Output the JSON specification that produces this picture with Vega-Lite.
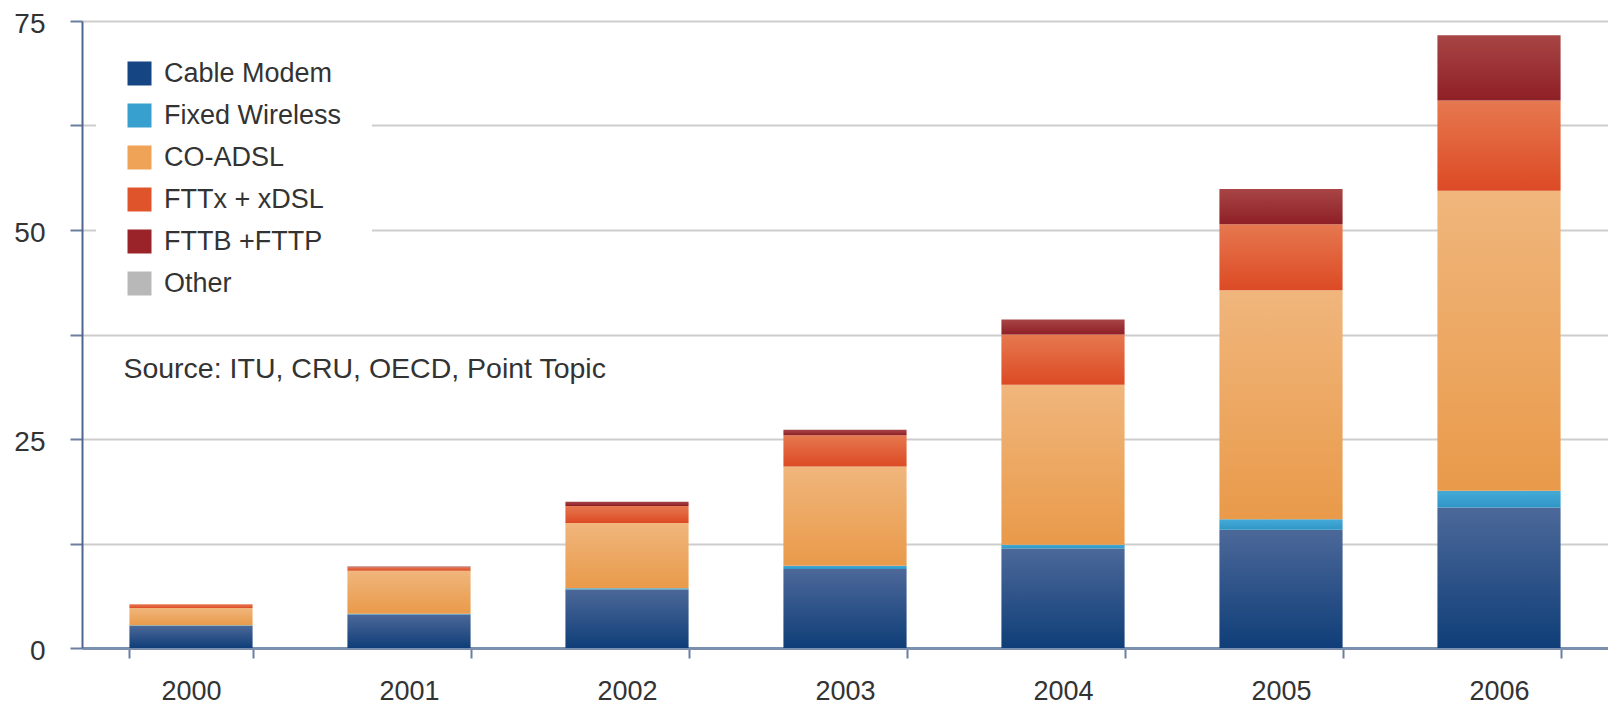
{
  "$schema": "https://vega.github.io/schema/vega-lite/v6.json",
  "width": 1526,
  "height": 627,
  "autosize": "none",
  "padding": {"left": 82, "top": 21, "right": 0, "bottom": 57},
  "background": "white",
  "config": {
    "view": {"stroke": null},
    "font": "Liberation Sans",
    "axisY": {
      "labelFontSize": 28,
      "labelFont": "Liberation Sans",
      "labelColor": "#333333",
      "labelPadding": 25,
      "labelOffset": 3,
      "tickSize": 12,
      "tickColor": "#6a7fa0",
      "tickWidth": 2,
      "domainColor": "#4f6690",
      "domainWidth": 2,
      "gridColor": "#cdcdcd",
      "gridWidth": 2,
      "title": null
    },
    "axisX": {
      "tickBand": "extent",
      "tickSize": 10,
      "tickColor": "#6a7fa0",
      "tickWidth": 2,
      "domainColor": "#7b8fae",
      "domainWidth": 3,
      "labelAngle": 0,
      "labelFontSize": 27,
      "labelFont": "Liberation Sans",
      "labelColor": "#333333",
      "labelPadding": 20,
      "grid": false,
      "title": null
    }
  },
  "data": {
    "values": [
      {"year": "2000", "series": "Cable Modem", "value": 2.67},
      {"year": "2000", "series": "Fixed Wireless", "value": 0.05},
      {"year": "2000", "series": "CO-ADSL", "value": 2.05},
      {"year": "2000", "series": "FTTx + xDSL", "value": 0.45},
      {"year": "2000", "series": "FTTB +FTTP", "value": 0.0},
      {"year": "2000", "series": "Other", "value": 0.0},
      {"year": "2001", "series": "Cable Modem", "value": 4.0},
      {"year": "2001", "series": "Fixed Wireless", "value": 0.1},
      {"year": "2001", "series": "CO-ADSL", "value": 5.15},
      {"year": "2001", "series": "FTTx + xDSL", "value": 0.4},
      {"year": "2001", "series": "FTTB +FTTP", "value": 0.1},
      {"year": "2001", "series": "Other", "value": 0.0},
      {"year": "2002", "series": "Cable Modem", "value": 7.0},
      {"year": "2002", "series": "Fixed Wireless", "value": 0.15},
      {"year": "2002", "series": "CO-ADSL", "value": 7.8},
      {"year": "2002", "series": "FTTx + xDSL", "value": 2.05},
      {"year": "2002", "series": "FTTB +FTTP", "value": 0.5},
      {"year": "2002", "series": "Other", "value": 0.0},
      {"year": "2003", "series": "Cable Modem", "value": 9.45},
      {"year": "2003", "series": "Fixed Wireless", "value": 0.4},
      {"year": "2003", "series": "CO-ADSL", "value": 11.85},
      {"year": "2003", "series": "FTTx + xDSL", "value": 3.75},
      {"year": "2003", "series": "FTTB +FTTP", "value": 0.65},
      {"year": "2003", "series": "Other", "value": 0.0},
      {"year": "2004", "series": "Cable Modem", "value": 11.9},
      {"year": "2004", "series": "Fixed Wireless", "value": 0.45},
      {"year": "2004", "series": "CO-ADSL", "value": 19.15},
      {"year": "2004", "series": "FTTx + xDSL", "value": 6.0},
      {"year": "2004", "series": "FTTB +FTTP", "value": 1.8},
      {"year": "2004", "series": "Other", "value": 0.0},
      {"year": "2005", "series": "Cable Modem", "value": 14.15},
      {"year": "2005", "series": "Fixed Wireless", "value": 1.25},
      {"year": "2005", "series": "CO-ADSL", "value": 27.4},
      {"year": "2005", "series": "FTTx + xDSL", "value": 7.9},
      {"year": "2005", "series": "FTTB +FTTP", "value": 4.2},
      {"year": "2005", "series": "Other", "value": 0.0},
      {"year": "2006", "series": "Cable Modem", "value": 16.8},
      {"year": "2006", "series": "Fixed Wireless", "value": 2.0},
      {"year": "2006", "series": "CO-ADSL", "value": 35.9},
      {"year": "2006", "series": "FTTx + xDSL", "value": 10.8},
      {"year": "2006", "series": "FTTB +FTTP", "value": 7.8},
      {"year": "2006", "series": "Other", "value": 0.0}
    ]
  },
  "transform": [
    {"calculate": "indexof(['Cable Modem','Fixed Wireless','CO-ADSL','FTTx + xDSL','FTTB +FTTP','Other'], datum.series)", "as": "ord"},
    {"stack": "value", "groupby": ["year"], "sort": [{"field": "ord", "order": "ascending"}], "as": ["v0", "v1"]}
  ],
  "encoding": {
    "x": {
      "field": "year",
      "type": "ordinal",
      "scale": {"paddingInner": 0.435, "paddingOuter": 0.2175},
      "axis": {}
    },
    "y": {
      "field": "v1",
      "type": "quantitative",
      "scale": {"domain": [0, 75], "nice": false},
      "axis": {
        "values": [0, 12.5, 25, 37.5, 50, 62.5, 75],
        "labelExpr": "datum.value % 25 == 0 ? datum.label : ''"
      }
    },
    "y2": {"field": "v0"}
  },
  "layer": [
    {
      "mark": {"type": "bar", "opacity": 0},
      "encoding": {
        "color": {
          "field": "series",
          "type": "nominal",
          "scale": {
            "domain": ["Cable Modem", "Fixed Wireless", "CO-ADSL", "FTTx + xDSL", "FTTB +FTTP", "Other"],
            "range": ["#154583", "#38a0cf", "#eea357", "#e0542c", "#9a2229", "#b8b8b8"]
          },
          "legend": {
            "title": null,
            "orient": "none",
            "legendX": 14,
            "legendY": 9,
            "symbolType": "square",
            "symbolSize": 576,
            "symbolOpacity": 1,
            "symbolStrokeWidth": 0,
            "labelFontSize": 27,
            "labelFont": "Liberation Sans",
            "labelColor": "#333333",
            "labelLimit": 0,
            "labelOffset": 11,
            "rowPadding": 14,
            "padding": 30,
            "fillColor": "white"
          }
        }
      }
    },
    {
      "transform": [{"filter": "datum.series == 'Cable Modem'"}],
      "mark": {"type": "bar", "color": {"gradient": "linear", "x1": 0, "y1": 0, "x2": 0, "y2": 1, "stops": [{"offset": 0, "color": "#4c6899"}, {"offset": 1, "color": "#0f3e78"}]}}
    },
    {
      "transform": [{"filter": "datum.series == 'Fixed Wireless'"}],
      "mark": {"type": "bar", "color": {"gradient": "linear", "x1": 0, "y1": 0, "x2": 0, "y2": 1, "stops": [{"offset": 0, "color": "#45aad6"}, {"offset": 1, "color": "#2f97c6"}]}}
    },
    {
      "transform": [{"filter": "datum.series == 'CO-ADSL'"}],
      "mark": {"type": "bar", "color": {"gradient": "linear", "x1": 0, "y1": 0, "x2": 0, "y2": 1, "stops": [{"offset": 0, "color": "#f0b67c"}, {"offset": 1, "color": "#e99a4a"}]}}
    },
    {
      "transform": [{"filter": "datum.series == 'FTTx + xDSL'"}],
      "mark": {"type": "bar", "color": {"gradient": "linear", "x1": 0, "y1": 0, "x2": 0, "y2": 1, "stops": [{"offset": 0, "color": "#e6784f"}, {"offset": 1, "color": "#dc4a24"}]}}
    },
    {
      "transform": [{"filter": "datum.series == 'FTTB +FTTP'"}],
      "mark": {"type": "bar", "color": {"gradient": "linear", "x1": 0, "y1": 0, "x2": 0, "y2": 1, "stops": [{"offset": 0, "color": "#a84545"}, {"offset": 1, "color": "#8e1f26"}]}}
    },
    {
      "transform": [{"filter": "datum.series == 'Other'"}],
      "mark": {"type": "bar", "color": "#b5b5b5"}
    },
    {
      "transform": [{"filter": "datum.year == '2000' && datum.series == 'Cable Modem'"}],
      "mark": {"type": "text", "align": "left", "baseline": "middle", "dx": -6, "fontSize": 28.5, "font": "Liberation Sans", "color": "#333333"},
      "encoding": {
        "x": {"field": "year", "type": "ordinal", "bandPosition": 0},
        "y": {"datum": 33.4},
        "y2": null,
        "text": {"value": "Source: ITU, CRU, OECD, Point Topic"}
      }
    }
  ]
}
